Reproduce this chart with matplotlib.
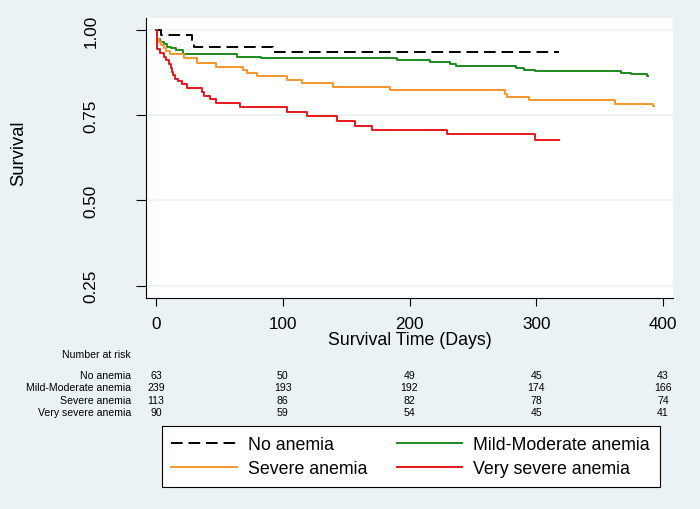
import matplotlib
matplotlib.use("Agg")
import matplotlib.pyplot as plt
from matplotlib import transforms

plt.rcParams['font.family'] = ['Liberation Sans', 'DejaVu Sans']

# Kaplan-Meier estimates (time in days, survival)
no_t = [0, 4, 28, 30, 92, 318]
no_s = [1.0, 0.984, 0.968, 0.950, 0.934, 0.934]

mild_t = [0, 1, 3, 6, 9, 12, 16, 21, 64, 83, 190, 216, 232, 237, 284, 290, 299, 367, 375, 387, 388]
mild_s = [1.0, 0.975, 0.966, 0.958, 0.950, 0.946, 0.940, 0.930, 0.922, 0.917, 0.911, 0.905,
          0.899, 0.894, 0.888, 0.884, 0.880, 0.875, 0.870, 0.866, 0.866]

sev_t = [0, 1, 2, 4, 6, 8, 11, 22, 32, 47, 69, 72, 80, 103, 115, 140, 185, 275, 277, 294, 362, 392, 393]
sev_s = [1.0, 0.973, 0.965, 0.956, 0.947, 0.938, 0.929, 0.918, 0.903, 0.890, 0.882, 0.875, 0.865,
         0.854, 0.844, 0.834, 0.824, 0.812, 0.803, 0.794, 0.783, 0.776, 0.776]

vsev_t = [0, 1, 3, 6, 8, 10.5, 11.5, 12.4, 13.6, 15, 17, 20.3, 24.2, 36.1, 37.9, 42.6, 47.3,
          66.3, 103, 119.4, 142.6, 157, 170.6, 229.4, 299, 318]
vsev_s = [1.0, 0.944, 0.933, 0.922, 0.911, 0.900, 0.889, 0.878, 0.867, 0.856, 0.851, 0.842, 0.830,
          0.817, 0.807, 0.797, 0.786, 0.773, 0.760, 0.747, 0.733, 0.719, 0.707, 0.695, 0.678, 0.678]

# number at risk table
risk_times = [0, 100, 200, 300, 400]
risk_groups = ["No anemia", "Mild-Moderate anemia", "Severe anemia", "Very severe anemia"]
risk_no = [63, 50, 49, 45, 43]
risk_mild = [239, 193, 192, 174, 166]
risk_sev = [113, 86, 82, 78, 74]
risk_vsev = [90, 59, 54, 45, 41]

x_ticks = [0, 100, 200, 300, 400]
y_ticks = [0.25, 0.50, 0.75, 1.00]

bg = '#EAF2F3'
fig = plt.figure(figsize=(7, 5.1), dpi=100, facecolor=bg)
ax = fig.add_axes([146/700, 1 - 299/510, 527/700, 280/510])
ax.set_facecolor('white')

ax.set_xlim(-7.9, 407.9)
ax.set_ylim(0.2136, 1.0352)

for v in y_ticks:
    ax.axhline(v, color=bg, lw=1.2, zorder=0)

lw = 1.4
ax.plot(no_t, no_s, drawstyle='steps-post', color='black', lw=lw, dashes=(6, 3), label='No anemia')
ax.plot(mild_t, mild_s, drawstyle='steps-post', color='#1c8a1c', lw=lw, label='Mild-Moderate anemia')
ax.plot(sev_t, sev_s, drawstyle='steps-post', color='#f7962a', lw=lw, label='Severe anemia')
ax.plot(vsev_t, vsev_s, drawstyle='steps-post', color='#e8161b', lw=lw, label='Very severe anemia')

for side in ['top', 'right']:
    ax.spines[side].set_visible(False)
for side in ['left', 'bottom']:
    ax.spines[side].set_linewidth(0.8)

ax.set_xticks(x_ticks)
ax.set_xticklabels([str(t) for t in x_ticks], fontsize=12.3)
ax.set_yticks(y_ticks)
ax.set_yticklabels(['%.2f' % v for v in y_ticks], fontsize=12.3, rotation=90, va='center')
ax.tick_params(axis='x', length=6, width=0.8, pad=7)
ax.tick_params(axis='y', length=7, width=0.8, pad=27)

ax.set_xlabel('Survival Time (Days)', fontsize=12.8, labelpad=0)
fig.text(19/700, 1 - 153/510, 'Survival', rotation=90, ha='center', va='center', fontsize=13.2)

# number at risk
trans = transforms.blended_transform_factory(ax.transData, fig.transFigure)
fig.text(131/700, 1 - 355/510, 'Number at risk', ha='right', va='center', fontsize=7.6)
rows = [risk_no, risk_mild, risk_sev, risk_vsev]
row_y = [376, 388.5, 401, 413.5]
for name, vals, y in zip(risk_groups, rows, row_y):
    fig.text(131/700, 1 - y/510, name, ha='right', va='center', fontsize=7.6)
    for t, n in zip(risk_times, vals):
        fig.text(t, 1 - y/510, str(n), transform=trans, ha='center', va='center', fontsize=7.6)

h, l = ax.get_legend_handles_labels()
order = [0, 2, 1, 3]
leg = fig.legend([h[i] for i in order], [l[i] for i in order],
                 loc='upper left', bbox_to_anchor=(161.5/700, 1 - 427/510 - 0.01, 498/700, 0.01),
                 mode='expand', ncol=2, fontsize=12.8, frameon=True, fancybox=False,
                 edgecolor='black', facecolor='white', framealpha=1,
                 handlelength=3.7, handletextpad=0.6, labelspacing=0.4, borderpad=0.55,
                 borderaxespad=0)
leg.get_frame().set_linewidth(0.8)

fig.savefig('out.png', dpi=100, facecolor=bg)
